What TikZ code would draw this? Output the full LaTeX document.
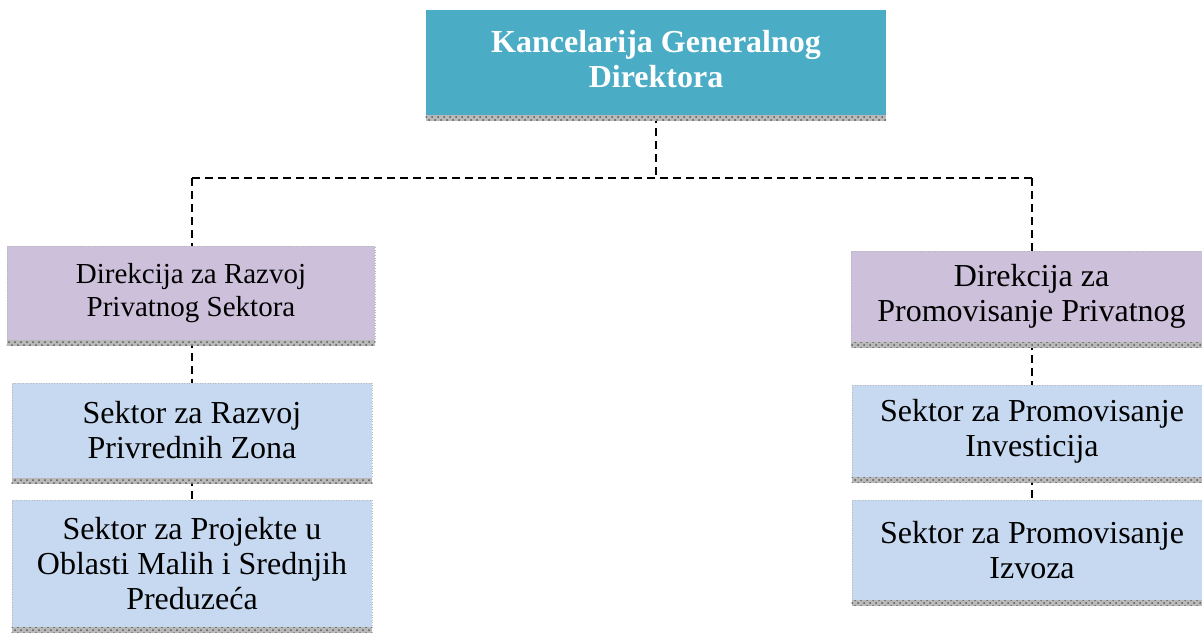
\documentclass[tikz,border=0pt]{standalone}
\usepackage{fontspec}
\setmainfont{Liberation Serif}
\usetikzlibrary{patterns,backgrounds}
\definecolor{teal1}{HTML}{4BACC6}
\definecolor{lilac}{HTML}{CCC0DA}
\definecolor{paleblue}{HTML}{C6D9F1}
\tikzset{
  box/.style={rectangle, inner sep=0pt, align=center, draw=gray!55, densely dotted, line width=0.3pt,
    font=\fontsize{16}{17.5}\selectfont, text=black},
  smallbox/.style={box, font=\fontsize{14.5}{16.5}\selectfont},
  topbox/.style={rectangle, inner sep=0pt, align=center, fill=teal1,
    font=\fontsize{16}{17.5}\selectfont\bfseries, text=white},
  conn/.style={draw=black, line width=1pt, dash pattern=on 4pt off 2.5pt},
  strip/.style={fill=gray!55, postaction={pattern=crosshatch dots, pattern color=black!65}}
}
\begin{document}
\begin{tikzpicture}[x=0.5pt,y=-0.5pt]
\useasboundingbox (0,0) rectangle (1202,639);
\node[topbox, minimum width=230pt, minimum height=52.5pt, text depth=0pt] (top) at (656,62.5) {Kancelarija Generalnog\\Direktora\rule{0pt}{0pt}\vspace*{3pt}};
\node[smallbox, fill=lilac, minimum width=184pt, minimum height=47pt] (lp) at (191,293) {Direkcija za Razvoj\\Privatnog Sektora};
\node[box, fill=paleblue, minimum width=180pt, minimum height=47.5pt] (ls1) at (192,430.5) {Sektor za Razvoj\\Privrednih Zona};
\node[box, fill=paleblue, minimum width=180pt, minimum height=63.5pt] (ls2) at (192,563.5) {Sektor za Projekte u\\Oblasti Malih i Srednjih\\Preduzeća};
\node[box, fill=lilac, minimum width=180.5pt, minimum height=45.5pt] (rp) at (1031.5,296.5) {Direkcija za\\Promovisanje Privatnog};
\node[box, fill=paleblue, minimum width=180pt, minimum height=46pt] (rs1) at (1032,431) {Sektor za Promovisanje\\Investicija};
\node[box, fill=paleblue, minimum width=180pt, minimum height=50pt] (rs2) at (1032,550) {Sektor za Promovisanje\\Izvoza};
\foreach \n in {top,lp,ls1,ls2,rp,rs1,rs2}{
  \path[strip] (\n.south west) rectangle ([yshift=-2.75pt]\n.south east);
}
\coordinate (j) at (656,178);
\coordinate (jl) at (192,178);
\coordinate (jr) at (1032,178);
\begin{scope}[on background layer]
\draw[conn] (top.south) -- (j);
\draw[conn] (jl) -- (jr);
\draw[conn] (jl) -- (lp.north -| jl);
\draw[conn] (jr) -- (rp.north -| jr);
\draw[conn] (lp.south -| jl) -- (ls1.north -| jl);
\draw[conn] (ls1.south -| jl) -- (ls2.north -| jl);
\draw[conn] (rp.south -| jr) -- (rs1.north -| jr);
\draw[conn] (rs1.south -| jr) -- (rs2.north -| jr);
\end{scope}
\end{tikzpicture}
\end{document}
